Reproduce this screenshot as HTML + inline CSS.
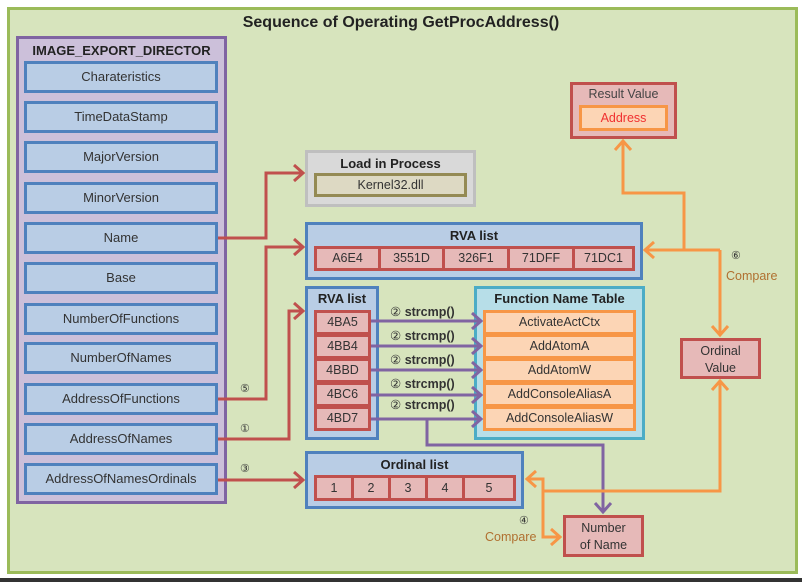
<!DOCTYPE html>
<html><head><meta charset="utf-8"><style>
body{margin:0;width:802px;height:582px;background:#fff;position:relative;overflow:hidden;font-family:"Liberation Sans",sans-serif;}
.a{position:absolute;box-sizing:border-box;}
.t{position:absolute;text-align:center;white-space:nowrap;color:#222;}
.row{position:absolute;box-sizing:border-box;left:24px;width:194px;height:32px;background:#b9cde5;border:3px solid #4f81bd;font-size:13px;line-height:26px;text-align:center;color:#333;}
.rc{position:absolute;box-sizing:border-box;background:#e6b9b8;border:3px solid #c0504d;font-size:12.5px;text-align:center;color:#333;}
.fc{position:absolute;box-sizing:border-box;left:483px;width:153px;height:25px;background:#fcd5b5;border:3px solid #f79646;font-size:12.5px;line-height:19px;text-align:center;color:#333;}
.b{font-weight:bold;}
.s{position:absolute;font-size:12.5px;color:#333;white-space:nowrap;}
</style></head><body>
<div class="a" style="left:0;top:578px;width:802px;height:4px;background:#333"></div>
<div class="a" style="left:7px;top:7px;width:791px;height:567px;background:#d7e4bd;border:3px solid #9bbb59"></div>
<div class="t b" style="left:0;width:802px;top:14px;font-size:16px;">Sequence of Operating GetProcAddress()</div>

<div class="a" style="left:16px;top:36px;width:211px;height:468px;background:#ccc0da;border:3px solid #8064a2"></div>
<div class="t b" style="left:16px;width:211px;top:43px;font-size:13px;">IMAGE_EXPORT_DIRECTOR</div>
<div class="row" style="top:61px">Charateristics</div>
<div class="row" style="top:101px">TimeDataStamp</div>
<div class="row" style="top:141px">MajorVersion</div>
<div class="row" style="top:182px">MinorVersion</div>
<div class="row" style="top:222px">Name</div>
<div class="row" style="top:262px">Base</div>
<div class="row" style="top:303px">NumberOfFunctions</div>
<div class="row" style="top:342px">NumberOfNames</div>
<div class="row" style="top:383px">AddressOfFunctions</div>
<div class="row" style="top:423px">AddressOfNames</div>
<div class="row" style="top:463px">AddressOfNamesOrdinals</div>

<div class="a" style="left:305px;top:150px;width:171px;height:57px;background:#d9d9d9;border:3px solid #bfbfbf"></div>
<div class="t b" style="left:305px;width:171px;top:156px;font-size:13px;">Load in Process</div>
<div class="a" style="left:314px;top:173px;width:153px;height:24px;background:#ddd9c3;border:3px solid #948a54;font-size:12.5px;text-align:center;line-height:18px;color:#333">Kernel32.dll</div>

<div class="a" style="left:305px;top:222px;width:338px;height:58px;background:#b9cde5;border:3px solid #4f81bd"></div>
<div class="t b" style="left:305px;width:338px;top:228px;font-size:13px;">RVA list</div>
<div class="rc" style="left:314px;top:246px;width:67px;height:25px;line-height:19px">A6E4</div>
<div class="rc" style="left:378px;top:246px;width:67px;height:25px;line-height:19px">3551D</div>
<div class="rc" style="left:442px;top:246px;width:68px;height:25px;line-height:19px">326F1</div>
<div class="rc" style="left:507px;top:246px;width:68px;height:25px;line-height:19px">71DFF</div>
<div class="rc" style="left:572px;top:246px;width:63px;height:25px;line-height:19px">71DC1</div>

<div class="a" style="left:305px;top:286px;width:74px;height:154px;background:#b9cde5;border:3px solid #4f81bd"></div>
<div class="t b" style="left:305px;width:74px;top:291px;font-size:13px;">RVA list</div>
<div class="rc" style="left:314px;top:310px;width:57px;height:25px;line-height:19px">4BA5</div>
<div class="rc" style="left:314px;top:334px;width:57px;height:25px;line-height:19px">4BB4</div>
<div class="rc" style="left:314px;top:358px;width:57px;height:25px;line-height:19px">4BBD</div>
<div class="rc" style="left:314px;top:382px;width:57px;height:25px;line-height:19px">4BC6</div>
<div class="rc" style="left:314px;top:406px;width:57px;height:25px;line-height:19px">4BD7</div>

<div class="a" style="left:474px;top:286px;width:171px;height:154px;background:#b7dee8;border:3px solid #4bacc6"></div>
<div class="t b" style="left:474px;width:171px;top:291px;font-size:13px;">Function Name Table</div>
<div class="fc" style="top:310px">ActivateActCtx</div>
<div class="fc" style="top:334px">AddAtomA</div>
<div class="fc" style="top:358px">AddAtomW</div>
<div class="fc" style="top:382px">AddConsoleAliasA</div>
<div class="fc" style="top:406px">AddConsoleAliasW</div>

<div class="s" style="left:390px;top:304px">② <b>strcmp()</b></div>
<div class="s" style="left:390px;top:328px">② <b>strcmp()</b></div>
<div class="s" style="left:390px;top:352px">② <b>strcmp()</b></div>
<div class="s" style="left:390px;top:376px">② <b>strcmp()</b></div>
<div class="s" style="left:390px;top:397px">② <b>strcmp()</b></div>

<div class="a" style="left:305px;top:451px;width:219px;height:58px;background:#b9cde5;border:3px solid #4f81bd"></div>
<div class="t b" style="left:305px;width:219px;top:457px;font-size:13px;">Ordinal list</div>
<div class="rc" style="left:314px;top:475px;width:40px;height:26px;line-height:20px">1</div>
<div class="rc" style="left:351px;top:475px;width:40px;height:26px;line-height:20px">2</div>
<div class="rc" style="left:388px;top:475px;width:40px;height:26px;line-height:20px">3</div>
<div class="rc" style="left:425px;top:475px;width:40px;height:26px;line-height:20px">4</div>
<div class="rc" style="left:462px;top:475px;width:54px;height:26px;line-height:20px">5</div>

<div class="rc" style="left:563px;top:515px;width:81px;height:42px;line-height:17px;padding-top:2px">Number<br>of Name</div>
<div class="rc" style="left:680px;top:338px;width:81px;height:41px;line-height:17px;padding-top:2px">Ordinal<br>Value</div>

<div class="a" style="left:570px;top:82px;width:107px;height:57px;background:#e6b9b8;border:3px solid #c0504d"></div>
<div class="t" style="left:570px;width:107px;top:87px;font-size:12.5px;color:#444">Result Value</div>
<div class="a" style="left:579px;top:105px;width:89px;height:26px;background:#fcd5b5;border:3px solid #f79646;font-size:12.5px;text-align:center;line-height:20px;color:#f03030">Address</div>

<div class="s" style="left:240px;top:382px;font-size:11px">⑤</div>
<div class="s" style="left:240px;top:422px;font-size:11px">①</div>
<div class="s" style="left:240px;top:462px;font-size:11px">③</div>
<div class="s" style="left:519px;top:514px;font-size:11px">④</div>
<div class="s" style="left:485px;top:530px;color:#b07030">Compare</div>
<div class="s" style="left:731px;top:249px;font-size:11px">⑥</div>
<div class="s" style="left:726px;top:269px;color:#b07030">Compare</div>

<svg class="a" style="left:0;top:0" width="802" height="582">
<g fill="none" stroke-width="3" stroke-linejoin="miter">
<g stroke="#c0504d">
<polyline points="218,238 266,238 266,173 303,173"/><polyline points="294,165 303,173 294,181"/>
<polyline points="218,399 266,399 266,247 303,247"/><polyline points="294,239 303,247 294,255"/>
<polyline points="218,439 289,439 289,311 303,311"/><polyline points="294,303 303,311 294,319"/>
<polyline points="218,480 303,480"/><polyline points="294,472 303,480 294,488"/>
</g>
<g stroke="#8064a2">
<line x1="371" y1="321" x2="481" y2="321"/><polyline points="472,313 481,321 472,329"/>
<line x1="371" y1="346" x2="481" y2="346"/><polyline points="472,338 481,346 472,354"/>
<line x1="371" y1="370" x2="481" y2="370"/><polyline points="472,362 481,370 472,378"/>
<line x1="371" y1="395" x2="481" y2="395"/><polyline points="472,387 481,395 472,403"/>
<line x1="371" y1="419" x2="481" y2="419"/><polyline points="472,411 481,419 472,427"/>
<polyline points="427,419 427,445 603,445 603,512"/><polyline points="595,503 603,512 611,503"/>
</g>
<g stroke="#f79646">
<polyline points="720,250 645,250"/><polyline points="654,242 645,250 654,258"/>
<polyline points="720,250 720,335"/><polyline points="712,326 720,335 728,326"/>
<polyline points="684,250 684,193 623,193 623,141"/><polyline points="615,150 623,141 631,150"/>
<polyline points="527,479 543,479 543,537 560,537"/><polyline points="536,471 527,479 536,487"/><polyline points="551,529 560,537 551,545"/>
<polyline points="543,491 720,491 720,381"/><polyline points="712,390 720,381 728,390"/>
</g>
</g>
</svg>
</body></html>
